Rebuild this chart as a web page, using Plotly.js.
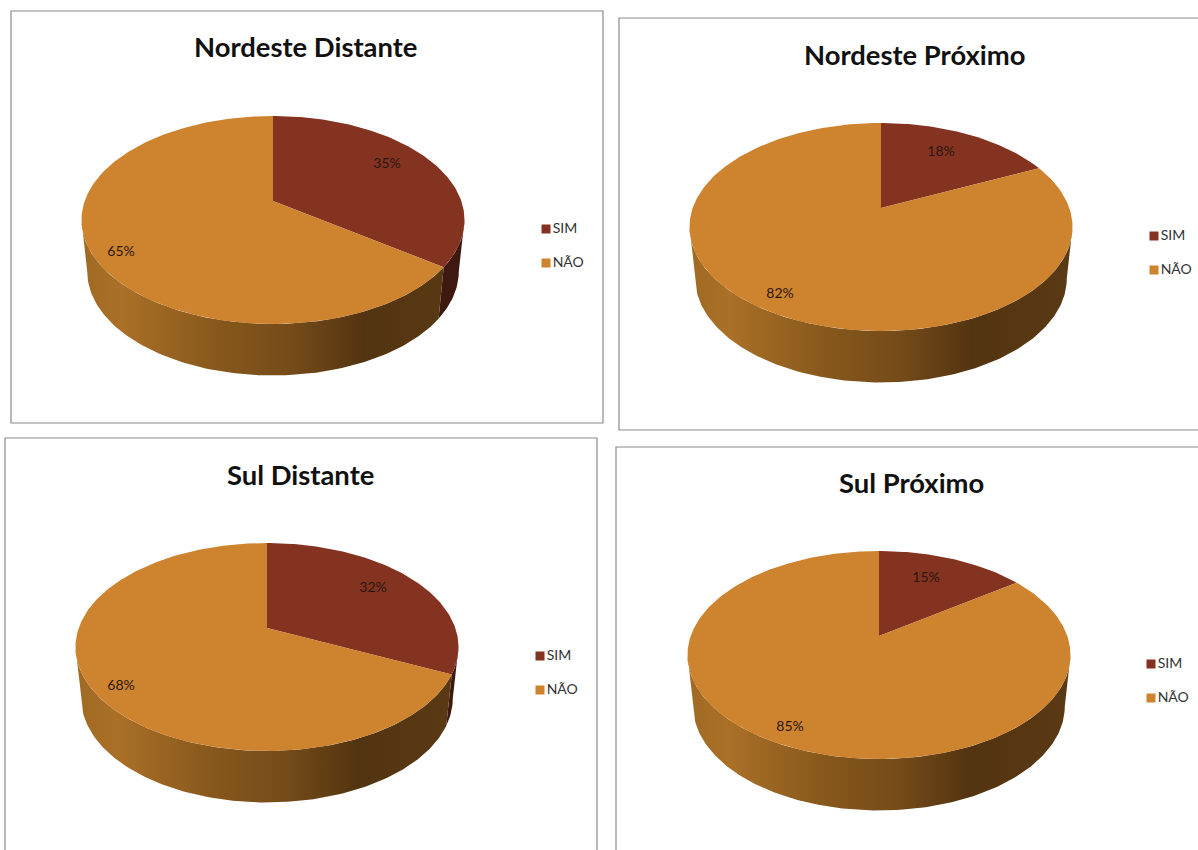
<!DOCTYPE html>
<html>
<head>
<meta charset="utf-8">
<script src="https://cdn.plot.ly/plotly-3.0.1.min.js"></script>
<style>html,body{margin:0;padding:0;background:#fff;overflow:hidden}</style>
</head>
<body>
<div id="chart" style="width:1198px;height:850px"></div>
<script>
// Survey answers per region
const regions = ["Nordeste Distante", "Nordeste Próximo", "Sul Distante", "Sul Próximo"];
const categories = ["SIM", "NÃO"];
const simValues = [35, 18, 32, 15];
const naoValues = [65, 82, 68, 85];

// Where each panel sits on the page, in page pixels
const frames = [[11, 11, 603, 423], [619, 18, 1230, 430], [5, 438, 597, 880], [616, 447, 1230, 880]];
const titleAt = [[305, 46], [914, 54], [300, 474], [911, 482]];
const apexes = [[273, 201], [881, 208], [267, 628], [879, 636]];
const legendAt = [[546, 229], [1154, 236], [540, 656], [1151, 664]];
const simLabelAt = [[387, 164], [941, 152], [373, 588], [926, 578]];
const naoLabelAt = [[121, 252], [780, 294], [121, 686], [790, 727]];

// Tilted-disc projection
const RX = 188.3, RY = 100.5, TILT = 0.1827, DEPTH = 51.5, BASE_SHRINK = 0.97;
const SILHOUETTE = 180 * Math.acos(-TILT) / Math.PI;

const COLORS = {sim: "#843320", nao: "#CE832E", simSide: "#3E1910"};
const SIDE_SCALE = [[0, "#A06A24"], [0.1, "#AA7027"], [0.35, "#87581C"], [0.55, "#754B19"],
                    [0.74, "#533410"], [1, "#5A3A14"]];

function project(apex, deg, base) {
  const t = deg * Math.PI / 180, u = Math.sin(t), v = Math.cos(t), w = 1 + TILT * v;
  const s = base ? BASE_SHRINK : 1;
  return [apex[0] + s * RX * u / w, apex[1] - RY * v / w + (base ? DEPTH : 0)];
}
function arc(apex, from, to, base) {
  const pts = [], n = Math.max(2, Math.ceil(Math.abs(to - from)));
  for (let i = 0; i <= n; i++) pts.push(project(apex, from + (to - from) * i / n, base));
  return pts;
}
function polygon(pts, extra, name) {
  return Object.assign({
    x: pts.map(p => p[0]), y: pts.map(p => p[1]),
    mode: "lines", fill: "toself", line: {width: 0},
    hoverinfo: "skip", showlegend: false, name: name
  }, extra);
}
function sideWall(apex, from, to) {
  return arc(apex, from, to, false).concat(arc(apex, to, from, true));
}

const traces = [];
regions.forEach((region, i) => {
  const apex = apexes[i];
  const split = 360 * simValues[i] / (simValues[i] + naoValues[i]);
  const far = 360 - SILHOUETTE;

  // Outer wall of the disc
  if (split > SILHOUETTE) {
    traces.push(polygon(sideWall(apex, SILHOUETTE, split), {fillcolor: COLORS.simSide}, categories[0]));
  }
  traces.push(polygon(sideWall(apex, Math.max(split, SILHOUETTE), far), {
    fillcolor: COLORS.nao,
    fillgradient: {type: "horizontal", colorscale: SIDE_SCALE, start: apex[0] - RX, stop: apex[0] + RX}
  }, categories[1]));

  // Top face slices
  traces.push(polygon([apex].concat(arc(apex, 0, split, false), [apex]), {fillcolor: COLORS.sim}, categories[0]));
  traces.push(polygon([apex].concat(arc(apex, split, 360, false), [apex]), {fillcolor: COLORS.nao}, categories[1]));

  // Slice percentages
  traces.push({
    x: [simLabelAt[i][0], naoLabelAt[i][0]], y: [simLabelAt[i][1], naoLabelAt[i][1]],
    text: [simValues[i] + "%", naoValues[i] + "%"],
    mode: "text", textposition: "middle center",
    textfont: {family: "Lato, sans-serif", size: 14, color: "#2B1712"},
    hoverinfo: "skip", showlegend: false
  });

  // Key beside the disc
  categories.forEach((cat, c) => {
    traces.push({
      x: [legendAt[i][0]], y: [legendAt[i][1] + 34 * c], text: [cat],
      mode: "markers+text", textposition: "middle right",
      marker: {symbol: "square", size: 9, color: c === 0 ? COLORS.sim : COLORS.nao},
      textfont: {family: "Lato, sans-serif", size: 14, color: "#333333"},
      hoverinfo: "skip", showlegend: false, name: cat
    });
  });
});

const hidden = {visible: false, fixedrange: true};
const layout = {
  width: 1198, height: 850,
  margin: {l: 0, r: 0, t: 0, b: 0},
  paper_bgcolor: "#ffffff", plot_bgcolor: "#ffffff",
  showlegend: false,
  xaxis: Object.assign({range: [0, 1198]}, hidden),
  yaxis: Object.assign({range: [850, 0]}, hidden),
  shapes: frames.map(f => ({
    type: "rect", xref: "x", yref: "y", layer: "below",
    x0: f[0], y0: f[1], x1: f[2], y1: f[3],
    line: {color: "#8A8A8A", width: 1.2}
  })),
  annotations: regions.map((region, i) => ({
    xref: "x", yref: "y", x: titleAt[i][0], y: titleAt[i][1],
    text: "<b>" + region + "</b>", showarrow: false,
    xanchor: "center", yanchor: "middle",
    font: {family: "Lato, sans-serif", size: 27.4, color: "#111111"}
  }))
};

Plotly.newPlot("chart", traces, layout, {staticPlot: true, displayModeBar: false});
</script>
</body>
</html>
